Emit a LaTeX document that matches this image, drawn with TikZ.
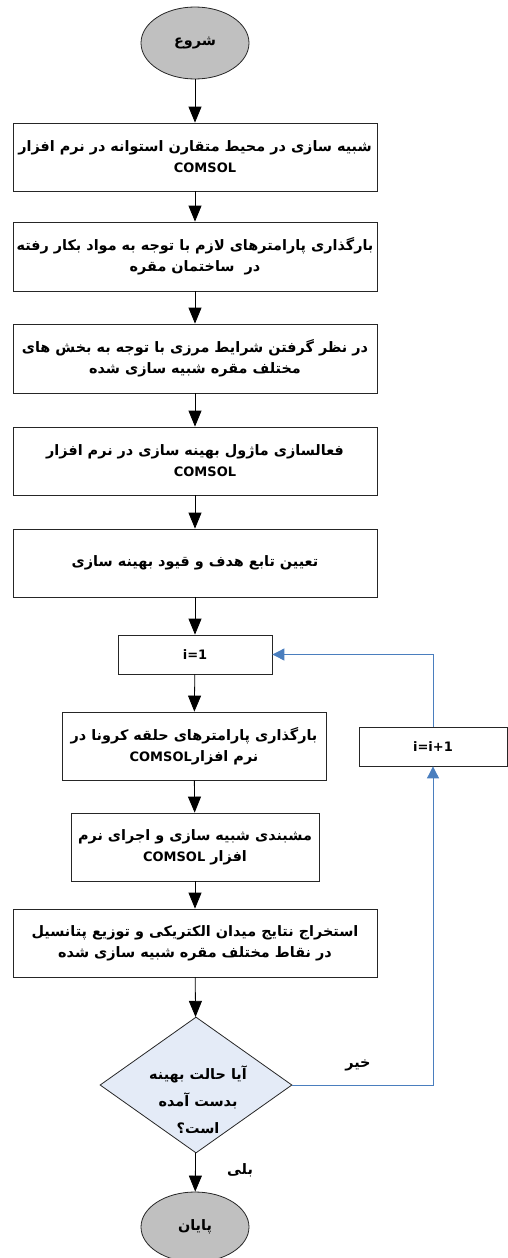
\documentclass[tikz,border=0pt]{standalone}
\usepackage{fontspec}
\setmainfont{DejaVu Sans}
\newfontfamily\fafont[Script=Arabic]{DejaVu Sans}
\TeXXeTstate=1
\usetikzlibrary{shapes.geometric,arrows.meta}
\definecolor{loopblue}{RGB}{74,126,190}
\definecolor{decfill}{RGB}{228,235,247}
\definecolor{termfill}{RGB}{192,192,192}
\newcommand{\fatxt}[1]{{\fafont\bfseries\beginR #1\endR}}
\newcommand{\comsol}{\beginL{\rmfamily\bfseries\fontsize{13}{20}\selectfont COMSOL}\endL}
\begin{document}
\begin{tikzpicture}[x=1pt,y=-1pt,font=\bfseries\fontsize{14.4}{21}\selectfont,
    box/.style={draw=black!85,line width=0.8pt,inner sep=0pt,minimum width=364pt,minimum height=68pt,align=center},
    term/.style={ellipse,draw=black!85,line width=0.8pt,fill=termfill,inner sep=0pt,minimum width=108pt,minimum height=72pt},
    flow/.style={line width=0.8pt,-{Triangle[length=16pt,width=13pt]}},
    back/.style={draw=loopblue,line width=0.9pt,-{Triangle[length=12pt,width=12pt]}},
    counter/.style={box,minimum height=39pt,font=\bfseries\fontsize{13}{18}\selectfont}]
\useasboundingbox (0,0) rectangle (508,1258);
\node[term] (start) at (195,43) {\fatxt{شروع}};
\node[box] (mesh) at (195,157) {\fatxt{شبیه سازی در محیط متقارن استوانه در نرم افزار}\\ \hspace*{20pt}\comsol};
\node[box,minimum height=69pt] (load) at (195,256.5) {\fatxt{بارگذاری پارامترهای لازم با توجه به مواد بکار رفته}\\ \fatxt{در\ \ ساختمان مقره}};
\node[box,minimum height=69pt] (bound) at (195,358.5) {\fatxt{در نظر گرفتن شرایط مرزی با توجه به بخش های}\\ \fatxt{مختلف مقره شبیه سازی شده}};
\node[box] (optmod) at (195,461) {\fatxt{فعالسازی ماژول بهینه سازی در نرم افزار}\\ \hspace*{20pt}\comsol};
\node[box] (goal) at (195,563) {\fatxt{تعیین تابع هدف و قیود بهینه سازی}};
\node[counter,minimum width=154pt] (init) at (195,654.5) {i=1};
\node[box,minimum width=264pt] (ring) at (194,746) {\fatxt{بارگذاری پارامترهای حلقه کرونا در}\\ \fatxt{نرم افزار\comsol}};
\node[box,minimum width=248pt] (run) at (195,847) {\fatxt{مشبندی شبیه سازی و اجرای نرم}\\ \fatxt{افزار \comsol}};
\node[box] (field) at (195,943) {\fatxt{استخراج نتایج میدان الکتریکی و توزیع پتانسیل}\\ \fatxt{در نقاط مختلف مقره شبیه سازی شده}};
\node[diamond,draw=black!85,line width=0.8pt,fill=decfill,inner sep=0pt,minimum width=192pt,minimum height=136pt] (check) at (196,1085) {};
\node[align=center,font=\bfseries\fontsize{14.4}{27}\selectfont] (checktxt) at (198,1100) {\fatxt{آیا حالت بهینه}\\ \fatxt{بدست آمده}\\ \fatxt{است؟}};
\node[counter,minimum width=148pt] (next) at (433,746.5) {i=i+1};
\node[term,minimum height=70pt] (stop) at (195,1227) {\fatxt{پایان}};
\node (no) at (358,1065) {\fatxt{خیر}};
\node (yes) at (240,1170) {\fatxt{بلی}};
% main flow
\draw[flow] (start) -- (mesh);
\draw[flow] (mesh) -- (load);
\draw[flow] (load) -- (bound);
\draw[flow] (bound) -- (optmod);
\draw[flow] (optmod) -- (goal);
\draw[flow] (goal) -- (init);
\draw[flow] (init) -- (ring);
\draw[flow] (ring) -- (run);
\draw[flow] (run) -- (field);
\draw[flow] (field) -- (check);
\draw[flow] (check) -- (stop);
% loop back
\draw[back] (check.east) -| (next.south);
\draw[back] (next.north) |- (init.east);
\end{tikzpicture}
\end{document}
